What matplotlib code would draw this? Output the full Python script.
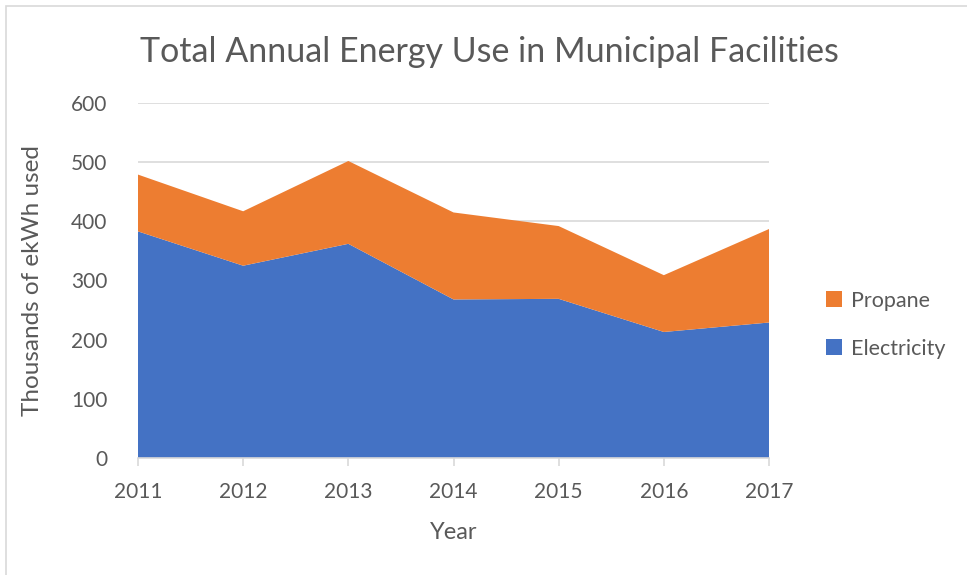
import matplotlib.pyplot as plt
from matplotlib.patches import Rectangle

years = [2011, 2012, 2013, 2014, 2015, 2016, 2017]
electricity = [383, 325, 362, 268, 269, 213, 229]
propane = [96, 92, 140, 147, 123, 96, 158]

blue = '#4472c4'
orange = '#ed7d31'
text_grey = '#595959'

plt.rcParams['font.family'] = ['Lato', 'DejaVu Sans']

fig = plt.figure(figsize=(9.67, 5.75), dpi=100)
ax = fig.add_axes([138 / 967, 1 - 458 / 575, (769 - 138) / 967, (458 - 103) / 575])

ax.stackplot(years, electricity, propane, colors=[blue, orange],
             labels=['Electricity', 'Propane'], zorder=2)

ax.set_xlim(2011, 2017)
ax.set_ylim(0, 600)
ax.set_yticks(range(0, 601, 100))
ax.set_xticks(years)
ax.grid(axis='y', color='#d9d9d9', linewidth=1.2, zorder=0)
for s in ['top', 'right', 'left']:
    ax.spines[s].set_visible(False)
ax.spines['bottom'].set_color('#d9d9d9')
ax.spines['bottom'].set_linewidth(1.2)
ax.spines['bottom'].set_zorder(3)
ax.tick_params(axis='x', colors='#d9d9d9', length=6, width=1.2, labelcolor=text_grey,
               labelsize=15, pad=11)
ax.tick_params(axis='y', length=0, labelcolor=text_grey, labelsize=15, pad=22)

ax.set_xlabel('Year', color=text_grey, fontsize=17, labelpad=15)
ax.set_ylabel('Thousands of ekWh used', color=text_grey, fontsize=17.5, labelpad=20)
fig.text(0.506, 0.91, 'Total Annual Energy Use in Municipal Facilities',
         ha='center', va='center', color=text_grey, fontsize=24.5)

handles, labels = ax.get_legend_handles_labels()
ax.legend(handles[::-1], labels[::-1], loc='center left', bbox_to_anchor=(1.06, 0.375),
          frameon=False, fontsize=15.5, labelcolor=text_grey, handlelength=0.75,
          handleheight=0.75, handletextpad=0.4, labelspacing=1.3)

fig.patches.append(Rectangle((6 / 967, -0.1), 1.2, 1.1 - 6 / 575, transform=fig.transFigure,
                             fill=False, edgecolor='#d9d9d9', linewidth=1.2))

fig.savefig('out.png', dpi=100)
